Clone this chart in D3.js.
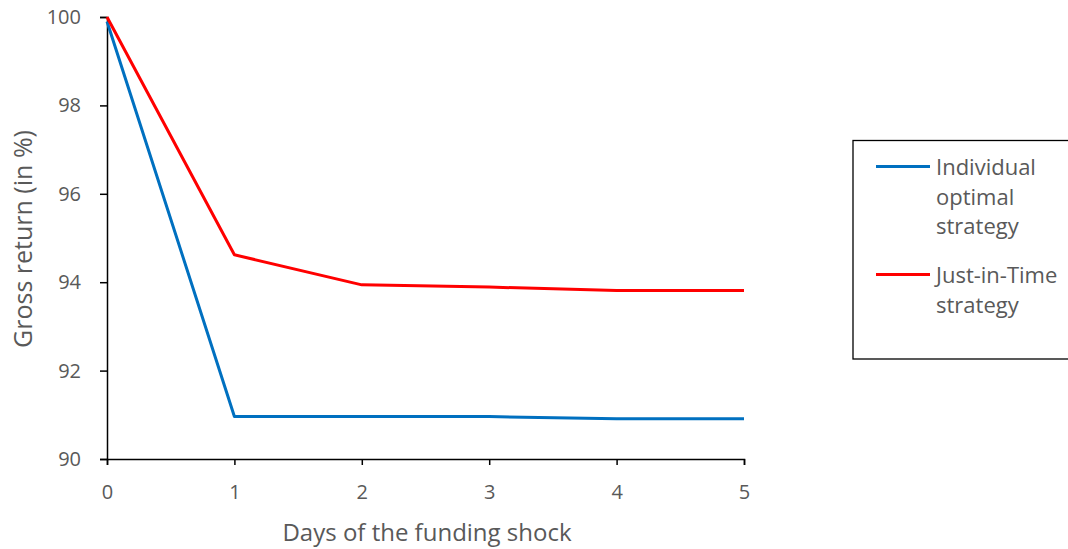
<!DOCTYPE html>
<html>
<head>
<meta charset="utf-8">
<script src="https://cdn.jsdelivr.net/npm/d3@7"></script>
<style>
  html, body { margin: 0; padding: 0; background: #fff; }
  text { font-family: "Open Sans", "Noto Sans", sans-serif; fill: #595959; }
</style>
</head>
<body>
<svg id="chart" width="1068" height="549"></svg>
<script>
// Days after the funding shock
const days = [0, 1, 2, 3, 4, 5];
// Gross return (in %) per strategy
const individualOptimal = [99.9, 90.96, 90.96, 90.96, 90.91, 90.91];
const justInTime = [100, 94.62, 93.94, 93.89, 93.81, 93.81];
const yTicks = [90, 92, 94, 96, 98, 100];
const seriesNames = ["Individual optimal strategy", "Just-in-Time strategy"];
const legendLines = [["Individual", "optimal", "strategy"], ["Just-in-Time", "strategy"]];
const seriesColors = ["#0070C0", "#FF0000"];

const svg = d3.select("#chart");
const plot = { left: 107, right: 744, top: 17, bottom: 459 };

const x = d3.scaleLinear().domain([0, 5]).range([plot.left, plot.right]);
const y = d3.scaleLinear().domain([90, 100]).range([plot.bottom, plot.top]);

// Axes
const yAxis = svg.append("g")
  .attr("transform", `translate(${plot.left},0)`)
  .call(d3.axisLeft(y).tickValues(yTicks).tickSize(7).tickPadding(19).tickFormat(d3.format("d")));
const xAxis = svg.append("g")
  .attr("transform", `translate(0,${plot.bottom})`)
  .call(d3.axisBottom(x).tickValues(days).tickSize(6).tickPadding(20).tickFormat(d3.format("d")));

[yAxis, xAxis].forEach(g => {
  g.select(".domain").attr("stroke", "#000").attr("stroke-width", 1.5);
  g.selectAll(".tick line").attr("stroke", "#000").attr("stroke-width", 1.5);
  g.selectAll(".tick text").style("font-size", "20px").attr("fill", "#595959")
    .style("font-family", '"Open Sans", "Noto Sans", sans-serif');
});

// Axis titles
svg.append("text")
  .attr("transform", `translate(32,239) rotate(-90)`)
  .attr("text-anchor", "middle")
  .style("font-size", "25px")
  .text("Gross return (in %)");
svg.append("text")
  .attr("x", 427).attr("y", 541)
  .attr("text-anchor", "middle")
  .style("font-size", "24px")
  .text("Days of the funding shock");

// Lines
const line = d3.line().x((d, i) => x(days[i])).y(d => y(d));
[individualOptimal, justInTime].forEach((vals, i) => {
  svg.append("path")
    .datum(vals)
    .attr("fill", "none")
    .attr("stroke", seriesColors[i])
    .attr("stroke-width", 3)
    .attr("stroke-linejoin", "round")
    .attr("d", line);
});

// Legend
const legend = svg.append("g");
legend.append("rect")
  .attr("x", 853).attr("y", 140.5).attr("width", 230).attr("height", 218.5)
  .attr("fill", "#fff").attr("stroke", "#000").attr("stroke-width", 1.3);
const legendRows = [166.5, 274.5];
legendLines.forEach((lines, i) => {
  legend.append("line")
    .attr("x1", 876).attr("x2", 930)
    .attr("y1", legendRows[i]).attr("y2", legendRows[i])
    .attr("stroke", seriesColors[i]).attr("stroke-width", 3);
  const t = legend.append("text")
    .attr("x", 936).attr("y", legendRows[i] + 8.5)
    .style("font-size", "22px");
  lines.forEach((s, k) => {
    t.append("tspan").attr("x", 936).attr("dy", k === 0 ? 0 : 29.5).text(s);
  });
});
</script>
</body>
</html>
